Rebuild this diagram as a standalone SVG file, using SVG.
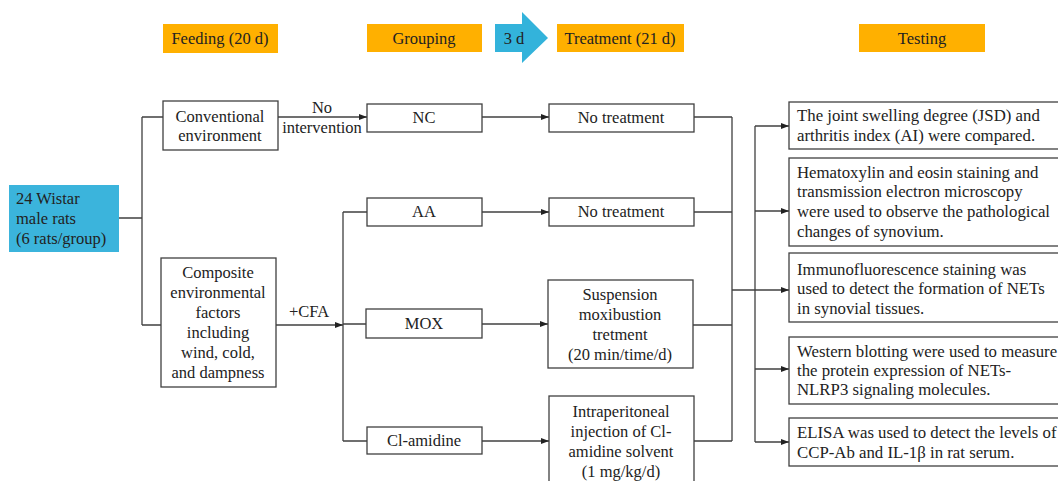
<svg xmlns="http://www.w3.org/2000/svg" width="1058" height="481" viewBox="0 0 1058 481" font-family="'Liberation Serif', 'DejaVu Serif', serif">
<defs>
<style>
text{font-family:'Liberation Serif','DejaVu Serif',serif;font-size:16.5px;fill:#222}
.c{text-anchor:middle}
.t{font-size:16.8px}
.box{fill:#fff;stroke:#404040;stroke-width:1.3}
.hdr{fill:#FFB000}
.ln{fill:none;stroke:#404040;stroke-width:1.3}
.ar{marker-end:url(#ah)}
</style>
<marker id="ah" viewBox="0 0 8 8" refX="8" refY="4" markerWidth="8" markerHeight="8" markerUnits="userSpaceOnUse" orient="auto">
<path d="M0,1 L8,4 L0,7 Z" fill="#222"/>
</marker>
</defs>
<rect width="1058" height="481" fill="#fff"/>

<g id="headers">
<g id="h-feeding"><rect class="hdr" x="163" y="24" width="115" height="29"/><text class="c" x="220" y="44">Feeding (20 d)</text></g>
<g id="h-grouping"><rect class="hdr" x="367" y="24" width="115" height="28"/><text class="c" x="424" y="44">Grouping</text></g>
<g id="h-3d"><path d="M495,24 H522 V12 L548,38 L522,63 V52 H495 Z" fill="#33B3DB"/><text class="c" x="514" y="44">3 d</text></g>
<g id="h-treatment"><rect class="hdr" x="557" y="24" width="127" height="28"/><text class="c" x="620" y="44">Treatment (21 d)</text></g>
<g id="h-testing"><rect class="hdr" x="859" y="24" width="126" height="28"/><text class="c" x="922" y="44">Testing</text></g>
</g>

<g id="connectors">
<path class="ln" d="M119,218 H142 M142,117 V325 M142,117 H163 M142,325 H161"/>
<path class="ln ar" d="M278,117 H367"/>
<path class="ln ar" d="M276,325 H343"/>
<path class="ln" d="M343,212 V441 M343,212 H367 M343,324 H366 M343,441 H367"/>
<path class="ln ar" d="M482,117 H549"/>
<path class="ln ar" d="M482,212 H549"/>
<path class="ln ar" d="M482,324 H548"/>
<path class="ln ar" d="M482,441 H549"/>
<path class="ln" d="M694,117 H732 M694,212 H732 M693,325 H732 M694,441 H732 M732,117 V441"/>
<path class="ln ar" d="M732,290 H789"/>
<path class="ln" d="M755,126 V442"/>
<path class="ln ar" d="M755,126 H789"/>
<path class="ln ar" d="M755,211 H789"/>
<path class="ln ar" d="M755,369 H789"/>
<path class="ln ar" d="M755,442 H789"/>
<text class="c" x="322" y="113">No</text>
<text class="c" x="322" y="133">intervention</text>
<text class="c" x="309" y="317">+CFA</text>
</g>

<g id="rats"><rect x="9" y="185" width="110" height="67" fill="#3BB4DC"/>
<text x="16" y="204">24 Wistar</text><text x="16" y="224">male rats</text><text x="16" y="244">(6 rats/group)</text></g>

<g id="conventional"><rect class="box" x="163" y="101" width="115" height="49"/>
<text class="c" x="220" y="122">Conventional</text><text class="c" x="220" y="141">environment</text></g>

<g id="composite"><rect class="box" x="161" y="258" width="115" height="129"/>
<text class="c" x="218" y="278">Composite</text><text class="c" x="218" y="298">environmental</text><text class="c" x="218" y="318">factors</text><text class="c" x="218" y="338">including</text><text class="c" x="218" y="358">wind, cold,</text><text class="c" x="218" y="378">and dampness</text></g>

<g id="nc"><rect class="box" x="367" y="104" width="115" height="28"/><text class="c" x="424" y="123">NC</text></g>
<g id="aa"><rect class="box" x="367" y="198" width="115" height="28"/><text class="c" x="424" y="217">AA</text></g>
<g id="mox"><rect class="box" x="366" y="309" width="116" height="29"/><text class="c" x="424" y="329">MOX</text></g>
<g id="clamidine"><rect class="box" x="367" y="427" width="115" height="27"/><text class="c" x="424" y="446">Cl-amidine</text></g>

<g id="nt1"><rect class="box" x="549" y="104" width="145" height="28"/><text class="c" x="621" y="123">No treatment</text></g>
<g id="nt2"><rect class="box" x="549" y="198" width="145" height="28"/><text class="c" x="621" y="217">No treatment</text></g>
<g id="suspension"><rect class="box" x="548" y="280" width="145" height="88"/>
<text class="c" x="620" y="300">Suspension</text><text class="c" x="620" y="320">moxibustion</text><text class="c" x="620" y="340">tretment</text><text class="c" x="620" y="360">(20 min/time/d)</text></g>
<g id="intraperitoneal"><rect class="box" x="549" y="396" width="145" height="100"/>
<text class="c" x="621" y="417">Intraperitoneal</text><text class="c" x="621" y="437">injection of Cl-</text><text class="c" x="621" y="457">amidine solvent</text><text class="c" x="621" y="477">(1 mg/kg/d)</text></g>

<g id="test1"><rect class="box" x="789" y="102" width="280" height="47"/>
<text class="t" x="797" y="121">The joint swelling degree (JSD) and</text><text class="t" x="797" y="141">arthritis index (AI) were compared.</text></g>
<g id="test2"><rect class="box" x="789" y="158" width="280" height="88"/>
<text class="t" x="797" y="178">Hematoxylin and eosin staining and</text><text class="t" x="797" y="197">transmission electron microscopy</text><text class="t" x="797" y="217">were used to observe the pathological</text><text class="t" x="797" y="237">changes of synovium.</text></g>
<g id="test3"><rect class="box" x="789" y="253" width="280" height="69"/>
<text class="t" x="797" y="275">Immunofluorescence staining was</text><text class="t" x="797" y="294">used to detect the formation of NETs</text><text class="t" x="797" y="314">in synovial tissues.</text></g>
<g id="test4"><rect class="box" x="789" y="337" width="280" height="67"/>
<text class="t" x="797" y="357">Western blotting were used to measure</text><text class="t" x="797" y="376">the protein expression of NETs-</text><text class="t" x="797" y="395">NLRP3 signaling molecules.</text></g>
<g id="test5"><rect class="box" x="789" y="418" width="280" height="48"/>
<text class="t" x="797" y="438">ELISA was used to detect the levels of</text><text class="t" x="797" y="458">CCP-Ab and IL-1β in rat serum.</text></g>
</svg>
